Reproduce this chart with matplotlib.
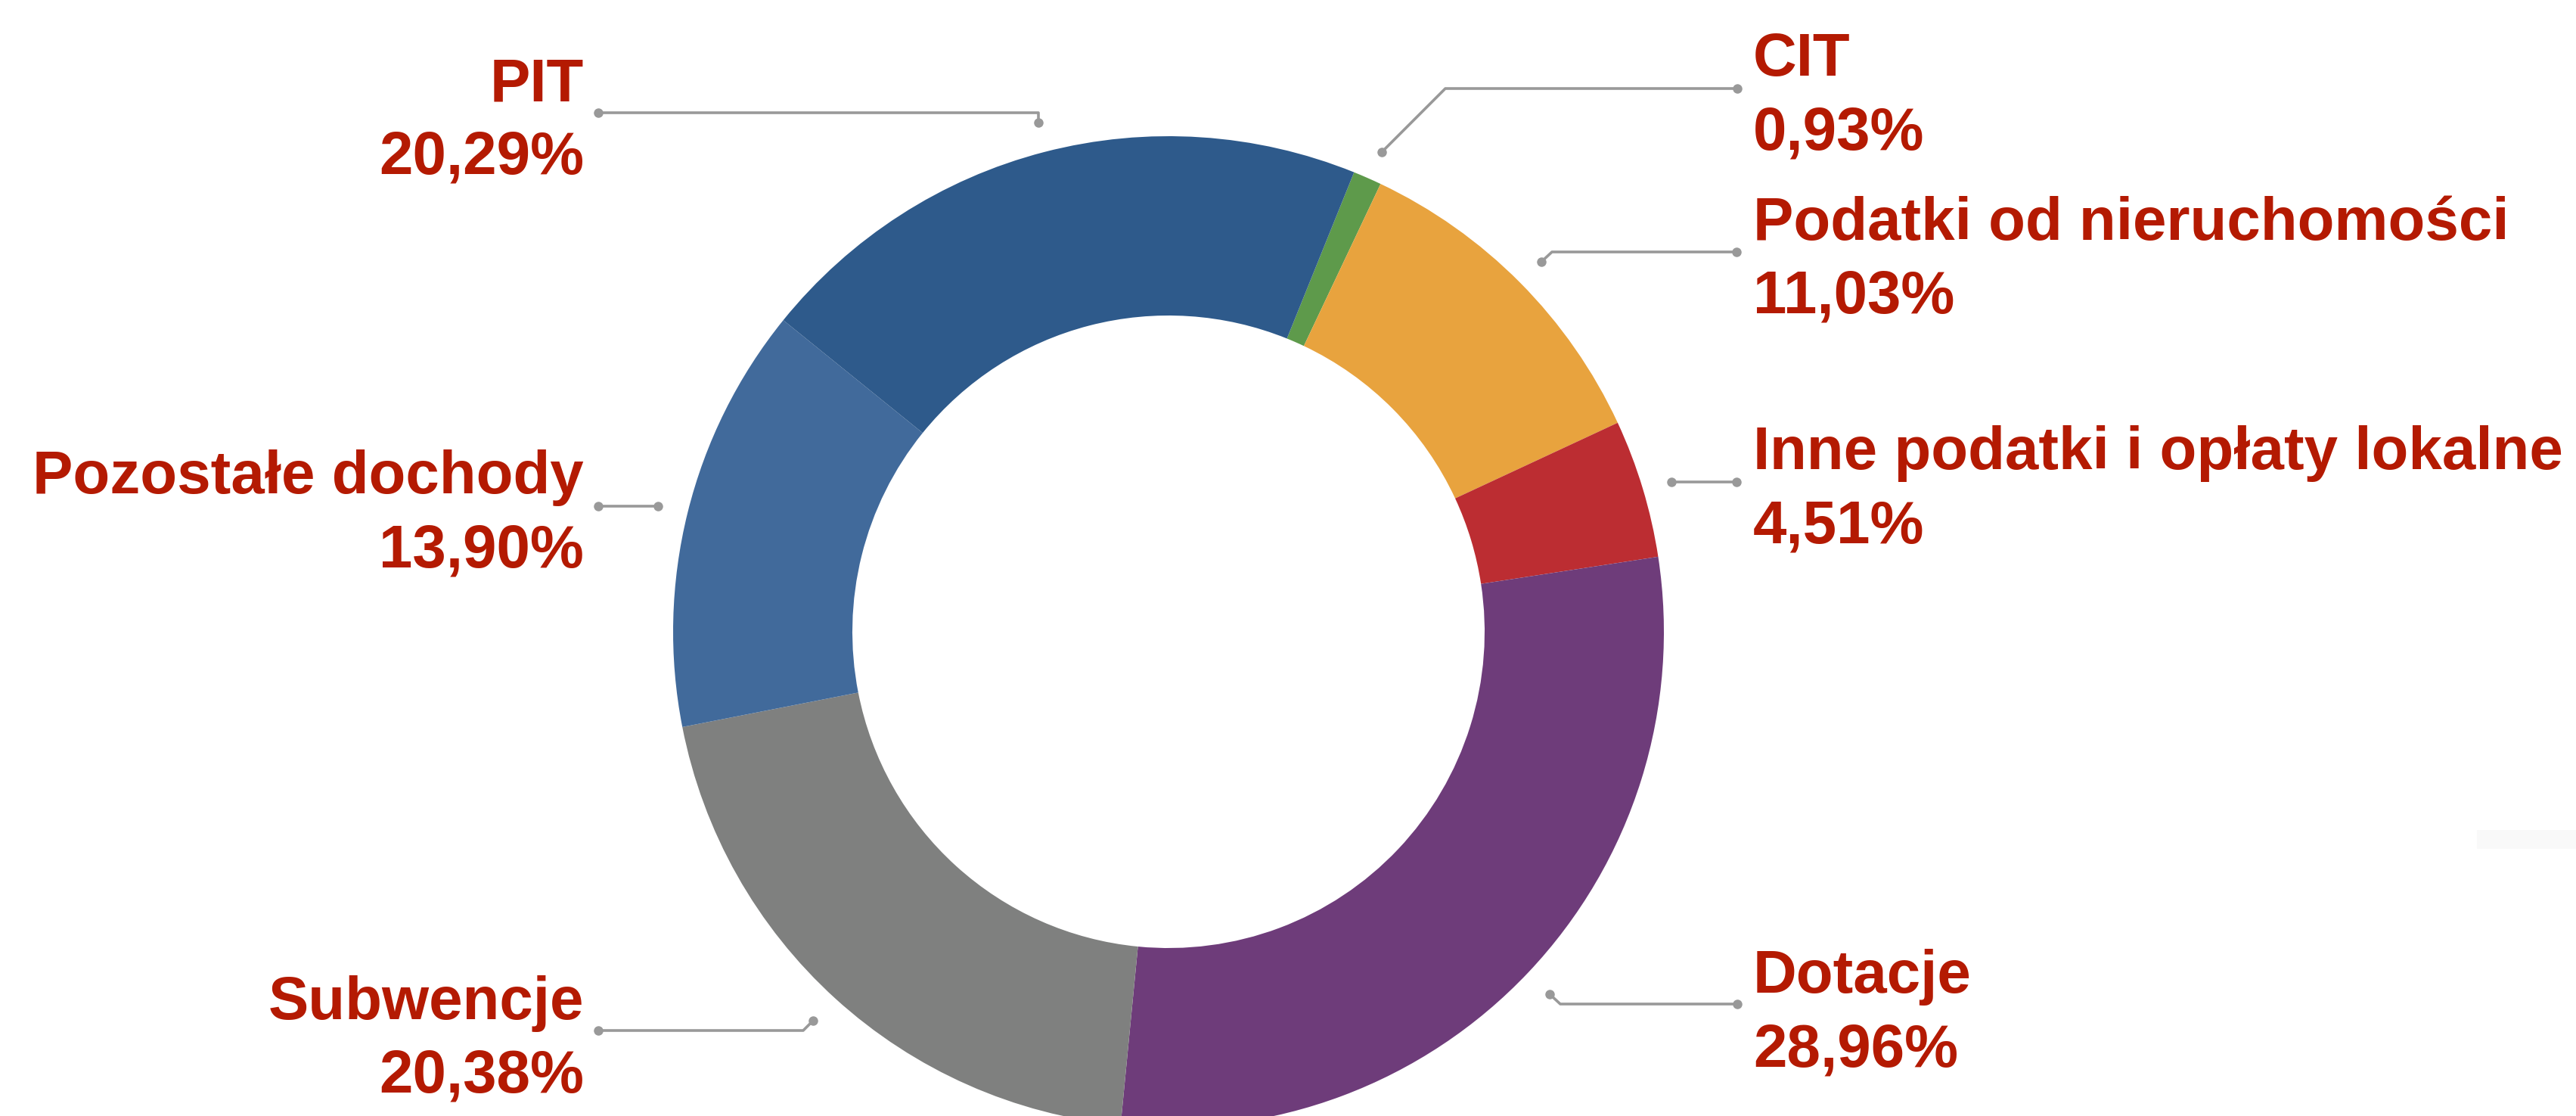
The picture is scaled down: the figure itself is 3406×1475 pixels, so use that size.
import matplotlib
matplotlib.use('Agg')
import matplotlib.pyplot as plt
from matplotlib.patches import Rectangle

# data
labels = ['CIT', 'Podatki od nieruchomości', 'Inne podatki i opłaty lokalne',
          'Dotacje', 'Subwencje', 'Pozostałe dochody', 'PIT']
values = [0.93, 11.03, 4.51, 28.96, 20.38, 13.90, 20.29]
colors = ['#5E9A4B', '#E8A33E', '#BC2D32', '#6E3C7A', '#7F807F', '#416A9B', '#2E5A8B']

W, H = 3406, 1475
TXT = '#B41A02'
GREY = '#999999'

# label layout in pixel coords (x, name baseline y, ha) and leader polylines
label_pos = {
    'CIT': (2318, 100, 'left'),
    'Podatki od nieruchomości': (2318, 317, 'left'),
    'Inne podatki i opłaty lokalne': (2318, 620, 'left'),
    'Dotacje': (2318, 1312, 'left'),
    'Subwencje': (772, 1347, 'right'),
    'Pozostałe dochody': (772, 652, 'right'),
    'PIT': (772, 133, 'right'),
}
leaders = {
    'CIT': [(2297, 117), (1911, 117), (1827, 201)],
    'Podatki od nieruchomości': [(2296, 333), (2052, 333), (2038, 346)],
    'Inne podatki i opłaty lokalne': [(2296, 637), (2210, 637)],
    'Dotacje': [(2297, 1327), (2063, 1327), (2049, 1314)],
    'Subwencje': [(791, 1362), (1062, 1362), (1075, 1349)],
    'Pozostałe dochody': [(791, 669), (870, 669)],
    'PIT': [(791, 149), (1373, 149), (1373, 162)],
}

fig = plt.figure(figsize=(W / 100, H / 100), dpi=100)
ax = fig.add_axes([0, 0, 1, 1])

R_OUT, R_IN = 655, 418
ax.pie(values, colors=colors, radius=R_OUT, center=(1545, H - 835),
       startangle=68, counterclock=False, frame=True,
       wedgeprops=dict(width=R_OUT - R_IN, linewidth=0))

ax.set_xlim(0, W)
ax.set_ylim(0, H)
ax.set_aspect('auto')
ax.axis('off')

for name, val in zip(labels, values):
    x, y, ha = label_pos[name]
    ax.text(x, H - y, name, ha=ha, va='baseline', color=TXT, fontsize=57.5,
            fontweight='bold', family='Liberation Sans')
    pct = f'{val:.2f}'.replace('.', ',') + '%'
    ax.text(x, H - y - 97, pct, ha=ha, va='baseline', color=TXT, fontsize=57.5,
            fontweight='bold', family='Liberation Sans')
    pts = leaders[name]
    xs = [p[0] for p in pts]
    ys = [H - p[1] for p in pts]
    ax.plot(xs, ys, color=GREY, lw=2.6, solid_capstyle='butt')
    ax.plot([xs[0], xs[-1]], [ys[0], ys[-1]], 'o', color=GREY, ms=9, mec='none')

# faint strip at right edge
ax.add_patch(Rectangle((3275, H - 1122), 131, 25, color='#F9F9F9', lw=0))

fig.savefig('out.png', dpi=100)
